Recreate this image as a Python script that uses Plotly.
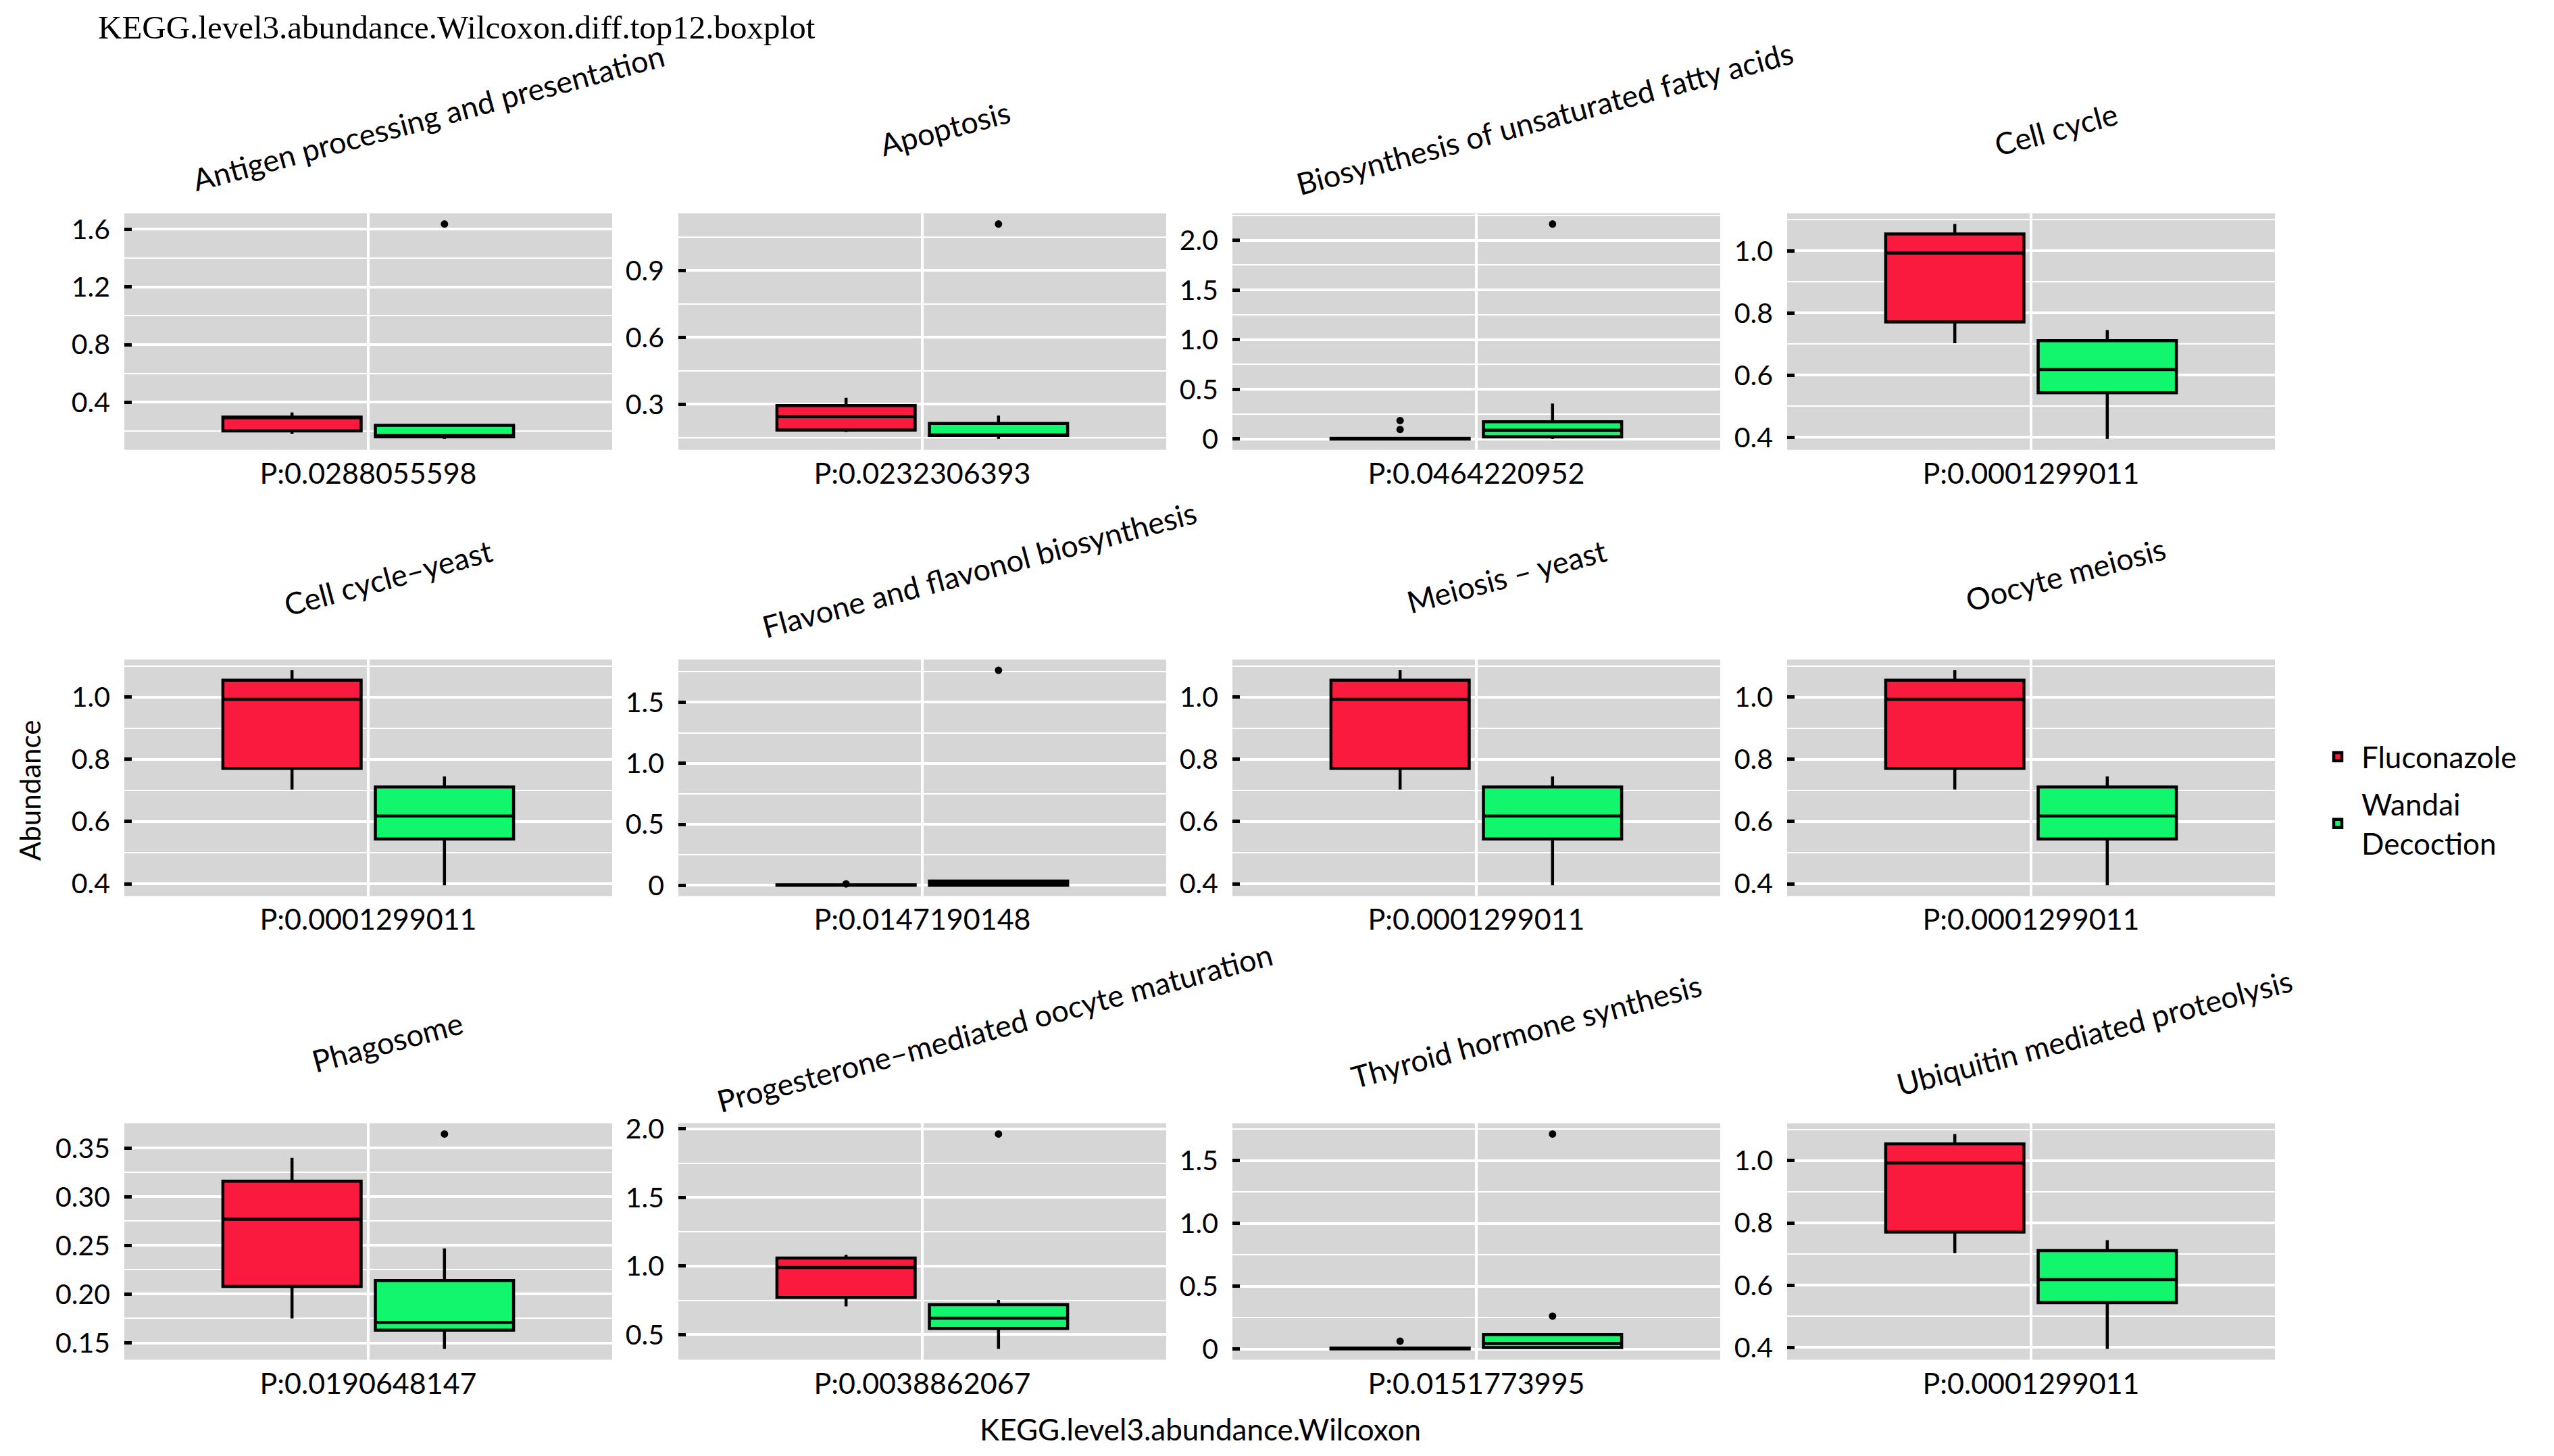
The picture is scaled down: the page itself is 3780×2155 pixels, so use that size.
import plotly.graph_objects as go

# ---------------- data ----------------
PATHWAYS = [
    "Antigen processing and presentation", "Apoptosis",
    "Biosynthesis of unsaturated fatty acids", "Cell cycle",
    "Cell cycle–yeast", "Flavone and flavonol biosynthesis",
    "Meiosis – yeast", "Oocyte meiosis",
    "Phagosome", "Progesterone–mediated oocyte maturation",
    "Thyroid hormone synthesis", "Ubiquitin mediated proteolysis",
]
P_LABELS = [
    "P:0.0288055598", "P:0.0232306393", "P:0.0464220952", "P:0.0001299011",
    "P:0.0001299011", "P:0.0147190148", "P:0.0001299011", "P:0.0001299011",
    "P:0.0190648147", "P:0.0038862067", "P:0.0151773995", "P:0.0001299011",
]
GROUPS = ["Fluconazole", "Wandai<br>Decoction"]

# Fluconazole box statistics (lower whisker, Q1, median, Q3, upper whisker)
FLU_LOWER = [0.182, 0.176, 0.000, 0.703, 0.703, 0.000, 0.703, 0.703, 0.175, 0.707, 0.000, 0.703]
FLU_Q1    = [0.202, 0.184, 0.000, 0.771, 0.771, 0.000, 0.771, 0.771, 0.208, 0.772, 0.000, 0.771]
FLU_MED   = [0.295, 0.244, 0.002, 0.993, 0.993, 0.002, 0.993, 0.993, 0.277, 0.990, 0.003, 0.993]
FLU_Q3    = [0.298, 0.294, 0.006, 1.054, 1.054, 0.005, 1.054, 1.054, 0.316, 1.059, 0.008, 1.054]
FLU_UPPER = [0.329, 0.329, 0.012, 1.086, 1.086, 0.008, 1.086, 1.086, 0.340, 1.082, 0.015, 1.086]
FLU_OUT = [[], [], [0.096, 0.186], [], [], [0.012], [], [], [], [], [0.062], []]

# Wandai Decoction box statistics
WAN_LOWER = [0.145, 0.144, 0.000, 0.395, 0.395, 0.000, 0.395, 0.395, 0.1437, 0.396, 0.000, 0.395]
WAN_Q1    = [0.161, 0.159, 0.022, 0.544, 0.544, 0.000, 0.544, 0.544, 0.163, 0.545, 0.012, 0.544]
WAN_MED   = [0.170, 0.162, 0.089, 0.618, 0.618, 0.015, 0.618, 0.618, 0.171, 0.621, 0.044, 0.618]
WAN_Q3    = [0.240, 0.214, 0.173, 0.711, 0.711, 0.035, 0.711, 0.711, 0.214, 0.719, 0.115, 0.711]
WAN_UPPER = [0.250, 0.249, 0.358, 0.745, 0.745, 0.045, 0.745, 0.745, 0.247, 0.754, 0.115, 0.745]
WAN_OUT = [[1.637], [1.108], [2.164], [], [], [1.762], [], [], [0.3645], [1.963], [0.262, 1.712], []]

# y tick values / labels per panel
TICKS_A = [0.4, 0.6, 0.8, 1.0]
TICKS_A_LAB = ["0.4", "0.6", "0.8", "1.0"]
Y_TICKS = [
    [0.4, 0.8, 1.2, 1.6], [0.3, 0.6, 0.9], [0, 0.5, 1.0, 1.5, 2.0], TICKS_A,
    TICKS_A, [0, 0.5, 1.0, 1.5], TICKS_A, TICKS_A,
    [0.15, 0.20, 0.25, 0.30, 0.35], [0.5, 1.0, 1.5, 2.0], [0, 0.5, 1.0, 1.5], TICKS_A,
]
Y_TICK_LABELS = [
    ["0.4", "0.8", "1.2", "1.6"], ["0.3", "0.6", "0.9"], ["0", "0.5", "1.0", "1.5", "2.0"], TICKS_A_LAB,
    TICKS_A_LAB, ["0", "0.5", "1.0", "1.5"], TICKS_A_LAB, TICKS_A_LAB,
    ["0.15", "0.20", "0.25", "0.30", "0.35"], ["0.5", "1.0", "1.5", "2.0"], ["0", "0.5", "1.0", "1.5"], TICKS_A_LAB,
]

# ---------------- styling / layout constants ----------------
W, H = 3780, 2155
COL_LEFT = [184, 1004, 1824, 2645]
ROW_TOP = [302, 970, 1664]
PANEL_W, PANEL_H = 722, 354
TITLE_DX = [89, 33, 101, 37, 29, 84, 44, 51, 28, 107, 74, 94]
TITLE_DY = [143, 127, 142, 126, 123, 135, 125, 128, 122, 143, 138, 136]
COLORS = ["#F91A3D", "#12F66D"]
DODGE = 0.1875
BOX_W = 0.34
SANS = "Lato, 'Open Sans', sans-serif"
SERIF = "'Liberation Serif', 'DejaVu Serif', serif"
BG = "#D6D6D6"

fig = go.Figure()
layout = {}
annotations = []

for i in range(12):
    r, c = divmod(i, 4)
    k = i + 1
    xa = "x" if k == 1 else f"x{k}"
    ya = "y" if k == 1 else f"y{k}"
    stats = [
        (FLU_LOWER[i], FLU_Q1[i], FLU_MED[i], FLU_Q3[i], FLU_UPPER[i], FLU_OUT[i]),
        (WAN_LOWER[i], WAN_Q1[i], WAN_MED[i], WAN_Q3[i], WAN_UPPER[i], WAN_OUT[i]),
    ]
    lo_all, hi_all = [], []
    for g, (lo, q1, md, q3, hi, outs) in enumerate(stats):
        pos = -DODGE if g == 0 else DODGE
        fig.add_trace(go.Box(
            x=[pos], lowerfence=[lo], q1=[q1], median=[md], q3=[q3], upperfence=[hi],
            width=BOX_W, whiskerwidth=0, boxpoints=False,
            fillcolor=COLORS[g], line=dict(color="black", width=4.5),
            name=GROUPS[g], legendgroup=GROUPS[g], showlegend=(i == 0),
            xaxis=xa, yaxis=ya, hoverinfo="skip",
        ))
        if outs:
            fig.add_trace(go.Scatter(
                x=[pos] * len(outs), y=outs, mode="markers",
                marker=dict(color="black", size=11), showlegend=False,
                xaxis=xa, yaxis=ya, hoverinfo="skip",
            ))
        lo_all += [lo] + outs
        hi_all += [hi] + outs
    ymin, ymax = min(lo_all), max(hi_all)
    span = ymax - ymin
    yr = [ymin - 0.05 * span, ymax + 0.05 * span]
    tv = Y_TICKS[i]
    step = tv[1] - tv[0]
    minor = [tv[0] - step / 2] + [t + step / 2 for t in tv]

    x0 = COL_LEFT[c] / W
    x1 = (COL_LEFT[c] + PANEL_W) / W
    y1 = 1 - ROW_TOP[r] / H
    y0 = 1 - (ROW_TOP[r] + PANEL_H) / H
    xkey = "xaxis" if k == 1 else f"xaxis{k}"
    ykey = "yaxis" if k == 1 else f"yaxis{k}"
    layout[xkey] = dict(
        domain=[x0, x1], anchor=ya, range=[-0.6, 0.6],
        tickmode="array", tickvals=[0], ticktext=[P_LABELS[i]],
        showgrid=True, gridcolor="white", gridwidth=3.5, zeroline=False,
        showline=False, ticks="", ticklabelstandoff=6,
        tickfont=dict(family=SANS, size=43, color="black"), fixedrange=True,
    )
    layout[ykey] = dict(
        domain=[y0, y1], anchor=xa, range=yr,
        tickmode="array", tickvals=tv, ticktext=Y_TICK_LABELS[i],
        showgrid=True, gridcolor="white", gridwidth=3.5, zeroline=False,
        showline=False, ticks="inside", ticklen=11, tickwidth=5, tickcolor="black",
        ticklabelstandoff=20,
        minor=dict(tickvals=minor, showgrid=True, gridcolor="white", gridwidth=2, ticks=""),
        tickfont=dict(family=SANS, size=41, color="black"), fixedrange=True,
    )
    cx = (COL_LEFT[c] + PANEL_W / 2 + TITLE_DX[i]) / W
    cy = 1 - (ROW_TOP[r] - TITLE_DY[i]) / H
    annotations.append(dict(
        text=PATHWAYS[i], x=cx, y=cy, xref="paper", yref="paper",
        xanchor="center", yanchor="middle", textangle=-15, showarrow=False,
        font=dict(family=SANS, size=45, color="black"),
    ))

annotations += [
    dict(text="KEGG.level3.abundance.Wilcoxon.diff.top12.boxplot", x=143 / W, y=1 - 24 / H,
         xref="paper", yref="paper", xanchor="left", yanchor="middle", showarrow=False,
         font=dict(family=SERIF, size=49, color="black")),
    dict(text="Abundance", x=44 / W, y=1 - 1166 / H, xref="paper", yref="paper",
         xanchor="center", yanchor="middle", textangle=-90, showarrow=False,
         font=dict(family=SANS, size=42, color="black")),
    dict(text="KEGG.level3.abundance.Wilcoxon", x=1776 / W, y=1 - 2122 / H,
         xref="paper", yref="paper", xanchor="center", yanchor="middle", showarrow=False,
         font=dict(family=SANS, size=44, color="black")),
]

fig.update_layout(
    width=W, height=H, margin=dict(l=0, r=0, t=0, b=0),
    paper_bgcolor="white", plot_bgcolor=BG, boxmode="overlay",
    annotations=annotations,
    legend=dict(x=3425 / W, y=1 - 1180 / H, xanchor="left", yanchor="middle",
                font=dict(family=SANS, size=44, color="black"), bgcolor="white",
                itemwidth=60, tracegroupgap=10),
    **layout,
)

fig.write_html("out.html", config={"displayModeBar": False},
               post_script="document.body.style.margin='0';")
